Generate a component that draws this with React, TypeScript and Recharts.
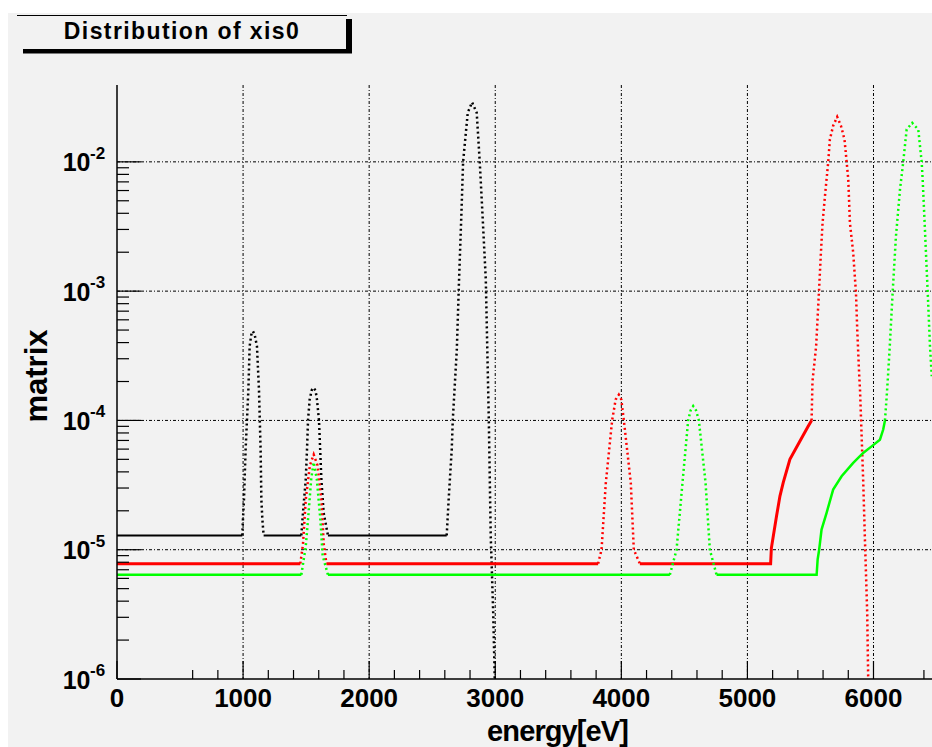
import { LineChart, Line, XAxis, YAxis, CartesianGrid } from "recharts"

// [energy eV, value] pairs, null value = gap between segments
const blackFlat = [
  [0, 1.29e-5], [994, 1.29e-5], [994, null],
  [1163, 1.29e-5], [1462, 1.29e-5], [1462, null],
  [1673, 1.29e-5], [2615, 1.29e-5],
]
const blackPeaks = [
  [994, 1.29e-5], [999, 1.71e-5], [1007, 2.44e-5], [1020, 5.95e-5], [1042, 1.73e-4], [1052, 3.75e-4],
  [1065, 4.6e-4], [1078, 4.9e-4], [1092, 4.6e-4], [1110, 3.75e-4], [1126, 1.73e-4], [1139, 5.95e-5],
  [1145, 2.44e-5], [1153, 1.71e-5], [1163, 1.29e-5], [1163, null],
  [1462, 1.29e-5], [1475, 1.93e-5], [1497, 3.49e-5], [1507, 5.95e-5], [1515, 1e-4], [1528, 1.45e-4],
  [1545, 1.72e-4], [1560, 1.79e-4], [1575, 1.7e-4], [1586, 1.45e-4], [1602, 1e-4], [1621, 3.49e-5],
  [1639, 1.93e-5], [1673, 1.29e-5], [1673, null],
  [2615, 1.29e-5], [2631, 2.5e-5], [2655, 6e-5], [2663, 1e-4], [2695, 3.5e-4], [2713, 1.23e-3],
  [2732, 4.07e-3], [2745, 1e-2], [2782, 2.4e-2], [2816, 2.89e-2], [2853, 2.4e-2], [2877, 1e-2],
  [2898, 4.07e-3], [2925, 1.23e-3], [2949, 1e-4], [2964, 1.29e-5], [2984, 3.2e-6], [2996, 1e-6],
]

const redFlat = [
  [0, 7.8e-6], [1454, 7.8e-6], [1454, null],
  [1661, 7.8e-6], [3816, 7.8e-6], [3816, null],
  [4147, 7.8e-6], [5184, 7.8e-6], [5190, 1.03e-5], [5231, 1.82e-5], [5258, 2.6e-5], [5284, 3.3e-5],
  [5337, 5e-5], [5416, 6.9e-5], [5482, 9e-5], [5509, 1e-4],
]
const redPeaks = [
  [1454, 7.8e-6], [1475, 1.1e-5], [1497, 2.44e-5], [1530, 4.5e-5], [1560, 5.45e-5], [1590, 4.5e-5],
  [1621, 2.44e-5], [1640, 1.1e-5], [1661, 7.8e-6], [1661, null],
  [3816, 7.8e-6], [3843, 1e-5], [3877, 3.29e-5], [3927, 1e-4], [3955, 1.45e-4], [3980, 1.58e-4],
  [4000, 1.45e-4], [4020, 1e-4], [4075, 3.29e-5], [4099, 1e-5], [4147, 7.8e-6], [4147, null],
  [5509, 1e-4], [5516, 2.0e-4], [5545, 3.75e-4], [5567, 9.7e-4], [5583, 1.98e-3], [5596, 3.37e-3],
  [5615, 5.42e-3], [5641, 1e-2], [5654, 1.49e-2], [5680, 1.9e-2], [5712, 2.23e-2], [5742, 1.9e-2],
  [5770, 1.49e-2], [5787, 1e-2], [5800, 7.3e-3], [5813, 3.37e-3], [5839, 1.98e-3], [5861, 9.7e-4],
  [5871, 5.05e-4], [5887, 2.2e-4], [5893, 1.73e-4], [5918, 3.49e-5], [5932, 1.2e-5], [5950, 3.25e-6],
  [5958, 1e-6],
]

const greenFlat = [
  [0, 6.4e-6], [1462, 6.4e-6], [1462, null],
  [1673, 6.4e-6], [4385, 6.4e-6], [4385, null],
  [4755, 6.4e-6], [5549, 6.4e-6], [5557, 8.4e-6], [5569, 1e-5], [5588, 1.43e-5], [5628, 1.93e-5],
  [5680, 2.92e-5], [5747, 3.7e-5], [5839, 4.7e-5], [5918, 5.6e-5], [5985, 6.3e-5], [6051, 7.1e-5],
  [6077, 8.5e-5], [6091, 1e-4],
]
const greenPeaks = [
  [1462, 6.4e-6], [1497, 1.06e-5], [1515, 1.71e-5], [1540, 3.5e-5], [1560, 4.75e-5], [1585, 3.5e-5],
  [1613, 1.71e-5], [1631, 9e-6], [1673, 6.4e-6], [1673, null],
  [4385, 6.4e-6], [4438, 1e-5], [4485, 3.29e-5], [4530, 1e-4], [4550, 1.2e-4], [4570, 1.29e-4],
  [4592, 1.2e-4], [4615, 1e-4], [4668, 3.29e-5], [4702, 1e-5], [4755, 6.4e-6], [4755, null],
  [6091, 1e-4], [6104, 1.5e-4], [6115, 2.2e-4], [6129, 3.75e-4], [6152, 9.8e-4], [6178, 2.65e-3],
  [6210, 6.1e-3], [6236, 1e-2], [6263, 1.78e-2], [6307, 2e-2], [6355, 1.78e-2], [6382, 1e-2],
  [6390, 7.3e-3], [6408, 3e-3], [6430, 9.8e-4], [6448, 3.75e-4], [6462, 2.2e-4],
]

const xMajor = [0, 1000, 2000, 3000, 4000, 5000, 6000]
const xTicks = [
  0, 600, 800, 1000, 1200, 1400, 1600, 1800, 2000, 2200, 2400, 2600, 2800, 3000, 3200, 3400, 3600,
  3800, 4000, 4200, 4400, 4600, 4800, 5000, 5200, 5400, 5600, 5800, 6000, 6400,
]
const yDecades = [1e-6, 1e-5, 1e-4, 1e-3, 1e-2]
const yMinorSteps = [2, 3, 4, 5, 6, 7, 8, 9]
const yTicks = [
  ...yDecades,
  ...yDecades.slice(0, 4).flatMap(d => yMinorSteps.map(m => m * d)),
].sort((a, b) => a - b)

const FONT = '"Liberation Sans", Arial, Helvetica, sans-serif'
const BG = "#f2f2f2"

const toPts = (arr: any[]) => arr.map(([e, v]) => ({ e, v }))

const isDecade = (v: number) => Math.abs(Math.log10(v) - Math.round(Math.log10(v))) < 1e-6

const BottomTick = (props: any) => {
  const { x, y, payload } = props
  const major = payload.value % 1000 === 0
  return (
    <g>
      <line x1={x} x2={x} y1={y} y2={y - (major ? 18 : 9)} stroke="#000" strokeWidth={1.2} />
      {major && (
        <text x={x} y={y + 27.5} textAnchor="middle" fontFamily={FONT} fontWeight="bold" fontSize={26} fill="#000">
          {payload.value}
        </text>
      )}
    </g>
  )
}

const TopTick = (props: any) => {
  const { x, y, payload } = props
  const major = payload.value % 1000 === 0
  return <line x1={x} x2={x} y1={y} y2={y + (major ? 18 : 9)} stroke="#000" strokeWidth={1.2} />
}

const LeftTick = (props: any) => {
  const { x, y, payload } = props
  const major = isDecade(payload.value)
  const exp = Math.round(Math.log10(payload.value))
  return (
    <g>
      <line x1={x} x2={x + (major ? 24 : 12)} y1={y} y2={y} stroke="#000" strokeWidth={1.2} />
      {major && (
        <g fontFamily={FONT} fontWeight="bold" fill="#000">
          <text x={x - 26.5} y={y + 9.5} textAnchor="end" fontSize={25}>10</text>
          <text x={x - 27} y={y - 3} textAnchor="start" fontSize={17}>{exp}</text>
        </g>
      )}
    </g>
  )
}

const App = (): JSX.Element => {
  return (
    <div style={{ position: "relative", width: 932, height: 747, background: "#fff", overflow: "hidden" }}>
      <style>{`body{margin:0}`}</style>
      <div style={{ position: "absolute", left: 8, top: 13, width: 924, height: 734, background: BG }} />

      <div style={{ position: "absolute", left: 0, top: 0 }}>
        <LineChart width={932} height={747} margin={{ top: 85, right: 0, bottom: 0, left: 0 }}>
          <CartesianGrid
            stroke="#000"
            strokeDasharray="3 2 1 2"
            verticalValues={xMajor.slice(1)}
            horizontalValues={yDecades.slice(1)}
          />
          <XAxis
            dataKey="e"
            type="number"
            domain={[0, 6464]}
            allowDataOverflow
            ticks={xTicks}
            interval={0}
            height={68}
            tickSize={0}
            tickMargin={0}
            tickLine={false}
            axisLine={{ stroke: "#000", strokeWidth: 1.5 }}
            tick={(p: any) => <BottomTick {...p} />}
          />
          <XAxis
            xAxisId="top"
            orientation="top"
            dataKey="e"
            type="number"
            domain={[0, 6464]}
            allowDataOverflow
            ticks={xTicks}
            interval={0}
            height={0}
            tickSize={0}
            tickMargin={0}
            tickLine={false}
            axisLine={{ stroke: "#000", strokeWidth: 1.5 }}
            tick={(p: any) => <TopTick {...p} />}
          />
          <YAxis
            type="number"
            scale="log"
            domain={[1e-6, 0.0393]}
            allowDataOverflow
            ticks={yTicks}
            interval={0}
            width={117}
            tickSize={0}
            tickMargin={0}
            tickLine={false}
            axisLine={{ stroke: "#000", strokeWidth: 1.5 }}
            tick={(p: any) => <LeftTick {...p} />}
          />

          <Line data={toPts(blackFlat)} dataKey="v" stroke="#000" strokeWidth={2} dot={false} isAnimationActive={false} />
          <Line data={toPts(blackPeaks)} dataKey="v" stroke="#000" strokeWidth={2.5} strokeDasharray="2 3" dot={false} isAnimationActive={false} />
          <Line data={toPts(redFlat)} dataKey="v" stroke="#ff0000" strokeWidth={3} dot={false} isAnimationActive={false} />
          <Line data={toPts(redPeaks)} dataKey="v" stroke="#ff0000" strokeWidth={2.5} strokeDasharray="2 3" dot={false} isAnimationActive={false} />
          <Line data={toPts(greenFlat)} dataKey="v" stroke="#00ff00" strokeWidth={2.5} dot={false} isAnimationActive={false} />
          <Line data={toPts(greenPeaks)} dataKey="v" stroke="#00ff00" strokeWidth={2.5} strokeDasharray="2 3" dot={false} isAnimationActive={false} />
        </LineChart>
      </div>

      <svg width={932} height={747} style={{ position: "absolute", left: 0, top: 0, pointerEvents: "none" }}>
        <line x1={17} x2={347} y1={15.5} y2={15.5} stroke="#000" strokeWidth={1} />
        <rect x={346} y={19} width={6} height={34} fill="#000" />
        <rect x={23} y={49} width={329} height={4.5} fill="#000" />
        <text x={182} y={38.5} textAnchor="middle" fontFamily={FONT} fontWeight="bold" fontSize={23} letterSpacing={1.4} fill="#000">
          Distribution of xis0
        </text>
        <text x={628} y={741} textAnchor="end" fontFamily={FONT} fontWeight="bold" fontSize={29} letterSpacing={-0.9} fill="#000">
          energy[eV]
        </text>
        <text transform="translate(47,376) rotate(-90)" textAnchor="middle" fontFamily={FONT} fontWeight="bold" fontSize={31} fill="#000">
          matrix
        </text>
      </svg>
    </div>
  )
}

export default App
